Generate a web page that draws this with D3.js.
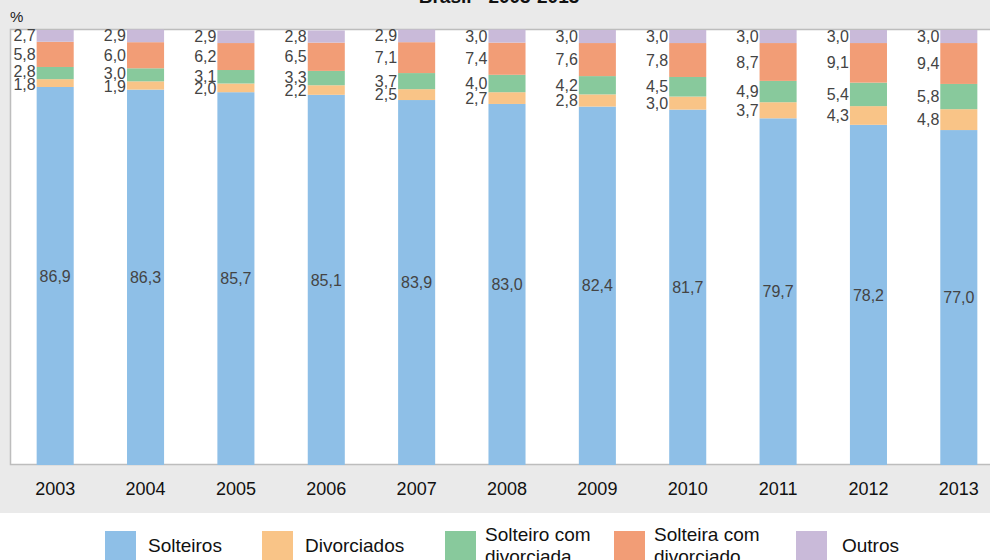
<!DOCTYPE html>
<html>
<head>
<meta charset="utf-8">
<script src="https://cdn.jsdelivr.net/npm/d3@7"></script>
<style>
  body { margin: 0; background: #fff; }
  svg { display: block; font-family: "Liberation Sans", Arial, sans-serif; }
</style>
</head>
<body>
<div id="chart"></div>
<script>
// data
const years = ['2003', '2004', '2005', '2006', '2007', '2008', '2009', '2010', '2011', '2012', '2013'];
const solteiros = [86.9, 86.3, 85.7, 85.1, 83.9, 83.0, 82.4, 81.7, 79.7, 78.2, 77.0];
const divorciados = [1.8, 1.9, 2.0, 2.2, 2.5, 2.7, 2.8, 3.0, 3.7, 4.3, 4.8];
const solteiroDivorciada = [2.8, 3.0, 3.1, 3.3, 3.7, 4.0, 4.2, 4.5, 4.9, 5.4, 5.8];
const solteiraDivorciado = [5.8, 6.0, 6.2, 6.5, 7.1, 7.4, 7.6, 7.8, 8.7, 9.1, 9.4];
const outros = [2.7, 2.9, 2.9, 2.8, 2.9, 3.0, 3.0, 3.0, 3.0, 3.0, 3.0];

const seriesKeys = ['solteiros', 'divorciados', 'solteiroDiv', 'solteiraDiv', 'outros'];
const seriesNames = [['Solteiros'], ['Divorciados'], ['Solteiro com', 'divorciada'], ['Solteira com', 'divorciado'], ['Outros']];
const colors = ['#8ebfe7', '#f9c487', '#88c99c', '#f29d76', '#c9bad9'];

const width = 990;
const height = 560;
const plot = { left: 10, top: 30, right: 1004, bottom: 465 };

// build rows for d3.stack from the named arrays
const rows = years.map((y, i) => ({
  year: y,
  solteiros: solteiros[i],
  divorciados: divorciados[i],
  solteiroDiv: solteiroDivorciada[i],
  solteiraDiv: solteiraDivorciado[i],
  outros: outros[i],
}));

const stacked = d3.stack().keys(seriesKeys)(rows);

const svg = d3.select('#chart').append('svg')
  .attr('width', width)
  .attr('height', height);

// gray panel behind the chart
svg.append('rect')
  .attr('x', 0).attr('y', 0)
  .attr('width', width).attr('height', 513)
  .attr('fill', '#eaeaea');

// white plot area with border
svg.append('rect')
  .attr('x', plot.left + 0.5).attr('y', plot.top - 0.5)
  .attr('width', plot.right - plot.left).attr('height', plot.bottom - plot.top)
  .attr('fill', '#fff')
  .attr('stroke', '#bdbdbd')
  .attr('stroke-width', 1.5);

// title, cut off at the top in the reference
svg.append('text')
  .attr('x', 499).attr('y', 3)
  .attr('text-anchor', 'middle')
  .attr('font-weight', 'bold')
  .attr('font-size', 19)
  .attr('fill', '#111')
  .text('Brasil - 2003-2013');

svg.append('text')
  .attr('x', 10).attr('y', 22)
  .attr('font-size', 15)
  .attr('fill', '#222')
  .text('%');

const x = d3.scaleBand()
  .domain(years)
  .range([plot.left, plot.right])
  .paddingInner(0.59)
  .paddingOuter(0.295);

const y = d3.scaleLinear()
  .domain([0, 100])
  .range([plot.bottom, plot.top]);

// bars
const layers = svg.append('g').selectAll('g')
  .data(stacked)
  .join('g')
  .attr('fill', (d, i) => colors[i]);

layers.selectAll('rect')
  .data(d => d)
  .join('rect')
  .attr('x', d => x(d.data.year))
  .attr('y', d => y(d[1]))
  .attr('width', x.bandwidth())
  .attr('height', d => y(d[0]) - y(d[1]));

const fmt = v => d3.format('.1f')(v).replace('.', ',');

// label for the first series sits inside the bar
svg.append('g').selectAll('text')
  .data(stacked[0])
  .join('text')
  .attr('x', d => x(d.data.year) + x.bandwidth() / 2)
  .attr('y', d => y((d[0] + d[1]) / 2))
  .attr('dy', '0.35em')
  .attr('text-anchor', 'middle')
  .attr('font-size', 16)
  .attr('fill', '#444')
  .text(d => fmt(d.data.solteiros));

// the other labels go left of the bar, pushed apart when they get too close
const minGap = 12.5;
const sideLabels = [];
years.forEach((yr, i) => {
  const col = stacked.slice(1).map(layer => ({
    year: yr,
    value: layer[i].data[layer.key],
    pos: y((layer[i][0] + layer[i][1]) / 2),
  }));
  for (let iter = 0; iter < 10; iter++) {
    for (let k = 0; k < col.length - 1; k++) {
      const gap = col[k].pos - col[k + 1].pos;
      if (gap < minGap) {
        const shift = (minGap - gap) / 2;
        col[k].pos += shift;
        col[k + 1].pos -= shift;
      }
    }
  }
  sideLabels.push(...col);
});

svg.append('g').selectAll('text')
  .data(sideLabels)
  .join('text')
  .attr('x', d => x(d.year) - 1)
  .attr('y', d => d.pos)
  .attr('dy', '0.35em')
  .attr('text-anchor', 'end')
  .attr('font-size', 16)
  .attr('fill', '#444')
  .text(d => fmt(d.value));

// x axis labels
const xAxis = svg.append('g')
  .attr('transform', `translate(0,${plot.bottom})`)
  .call(d3.axisBottom(x).tickSize(0).tickPadding(17));
xAxis.select('.domain').remove();
xAxis.selectAll('text')
  .attr('font-family', '"Liberation Sans", Arial, sans-serif')
  .attr('font-size', 18)
  .attr('fill', '#111');

// legend
const legendX = [105, 262, 445, 614, 796];
const legend = svg.append('g').selectAll('g')
  .data(seriesNames)
  .join('g')
  .attr('transform', (d, i) => `translate(${legendX[i]},531)`);

legend.append('rect')
  .attr('width', 31).attr('height', 31)
  .attr('fill', (d, i) => colors[i]);

legend.append('text')
  .attr('font-size', 19)
  .attr('fill', '#111')
  .each(function (lines) {
    const t = d3.select(this);
    const xOff = lines.length === 1 ? (lines[0] === 'Outros' ? 46 : 43) : 40;
    lines.forEach((line, j) => {
      t.append('tspan')
        .attr('x', xOff)
        .attr('y', lines.length === 1 ? 21 : 10 + j * 22)
        .text(line);
    });
  });
</script>
</body>
</html>
